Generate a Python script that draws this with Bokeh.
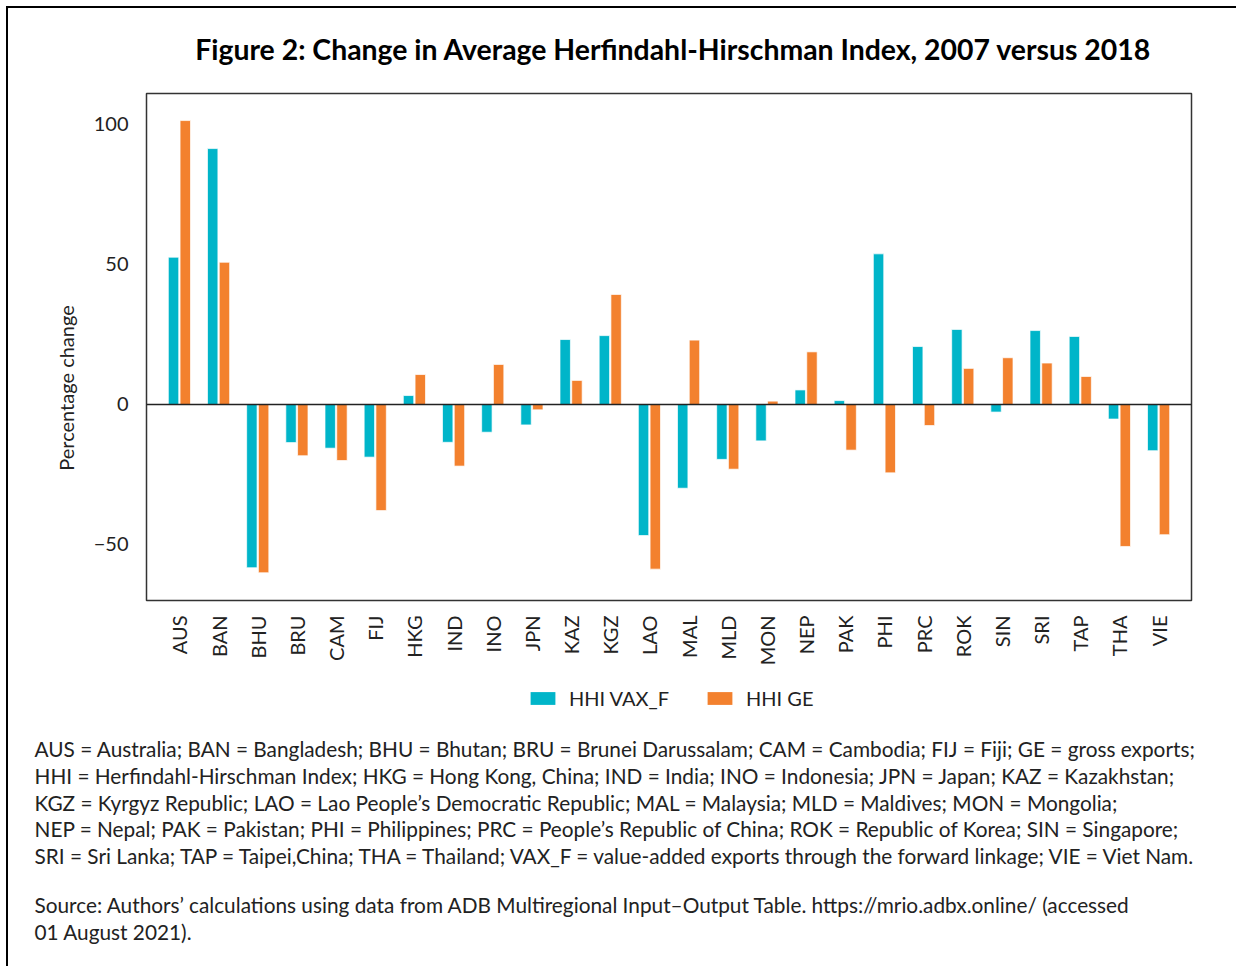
from math import pi
from bokeh.plotting import figure
from bokeh.models import (ColumnDataSource, FactorRange, Range1d, FixedTicker,
                          Span, Label, Legend, LegendItem)
from bokeh.transform import dodge
from bokeh.embed import file_html
from bokeh.resources import INLINE

# ---------------- data ----------------
countries = ["AUS", "BAN", "BHU", "BRU", "CAM", "FIJ", "HKG", "IND", "INO", "JPN",
             "KAZ", "KGZ", "LAO", "MAL", "MLD", "MON", "NEP", "PAK", "PHI", "PRC",
             "ROK", "SIN", "SRI", "TAP", "THA", "VIE"]
hhi_vax_f = [52.6, 91.4, -58.3, -13.6, -15.6, -18.8, 3.2, -13.5, -9.9, -7.3,
             23.2, 24.6, -46.8, -29.9, -19.6, -13.0, 5.2, 1.4, 53.8, 20.7,
             26.8, -2.7, 26.4, 24.3, -5.2, -16.5]
hhi_ge = [101.4, 50.8, -60.1, -18.3, -20.0, -37.9, 10.7, -22.0, 14.3, -1.9,
          8.6, 39.3, -58.8, 23.0, -23.1, 1.2, 18.8, -16.3, -24.4, -7.5,
          12.9, 16.7, 14.8, 10.0, -50.7, -46.5]
series_names = ["HHI VAX_F", "HHI GE"]
y_ticks = [-50, 0, 50, 100]
title_text = "Figure 2: Change in Average Herfindahl-Hirschman Index, 2007 versus 2018"
y_title = "Percentage change"
note_lines = [
    "AUS = Australia; BAN = Bangladesh; BHU = Bhutan; BRU = Brunei Darussalam; CAM = Cambodia; FIJ = Fiji; GE = gross exports;",
    "HHI = Herfindahl-Hirschman Index; HKG = Hong Kong, China; IND = India; INO = Indonesia; JPN = Japan; KAZ = Kazakhstan;",
    "KGZ = Kyrgyz Republic; LAO = Lao People\u2019s Democratic Republic; MAL = Malaysia; MLD = Maldives; MON = Mongolia;",
    "NEP = Nepal; PAK = Pakistan; PHI = Philippines; PRC = People\u2019s Republic of China; ROK = Republic of Korea; SIN = Singapore;",
    "SRI = Sri Lanka; TAP = Taipei,China; THA = Thailand; VAX_F = value-added exports through the forward linkage; VIE = Viet Nam.",
]
source_lines = [
    "Source: Authors\u2019 calculations using data from ADB Multiregional Input\u2013Output Table. https://mrio.adbx.online/ (accessed",
    "01 August 2021).",
]

# ---------------- style ----------------
FONT = "Lato"
CYAN = "#00B5C9"
ORANGE = "#F3812E"
TEXT = "#222222"
W, H = 1230, 960
ORIGIN = 8                                                 # page position of canvas top-left
FRAME_L, FRAME_R, FRAME_T, FRAME_B = 146, 1191, 93, 600    # page pixels of the plot frame
BASE_FIX = -9                                              # baseline correction for free labels

# ================= chart =================
src = ColumnDataSource(dict(country=countries, vax=hhi_vax_f, ge=hhi_ge))

p = figure(width=W, height=H,
           x_range=FactorRange(*countries, range_padding=0.34, range_padding_units="absolute"),
           y_range=Range1d(-70, 111.07),
           output_backend="svg", toolbar_location=None,
           min_border_left=FRAME_L - ORIGIN,
           min_border_right=W - (FRAME_L - ORIGIN) - (FRAME_R - FRAME_L),
           min_border_top=FRAME_T - ORIGIN,
           min_border_bottom=H - (FRAME_T - ORIGIN) - (FRAME_B - FRAME_T))
p.styles = {"margin-left": "6px", "margin-top": "6px",
            "border-top": "2px solid black", "border-left": "2px solid black"}

p.outline_line_color = "#333333"
p.outline_line_width = 1.5
p.xgrid.visible = False
p.ygrid.visible = False
p.background_fill_color = "white"
p.border_fill_color = "white"

p.vbar(x=dodge("country", -0.15, range=p.x_range), top="vax", width=0.266,
       source=src, fill_color=CYAN, line_color="white", line_width=0.7)
p.vbar(x=dodge("country", 0.15, range=p.x_range), top="ge", width=0.266,
       source=src, fill_color=ORANGE, line_color="white", line_width=0.7)

p.add_layout(Span(location=0, dimension="width", line_color="#222222", line_width=1.5))

xa = p.xaxis[0]
xa.major_label_orientation = pi / 2
xa.major_label_text_font = FONT
xa.major_label_text_font_size = "20px"
xa.major_label_text_color = TEXT
xa.major_label_standoff = 9
xa.axis_line_color = None
xa.major_tick_line_color = None
xa.minor_tick_line_color = None

ya = p.yaxis[0]
ya.ticker = FixedTicker(ticks=y_ticks)
ya.major_label_text_font = FONT
ya.major_label_text_font_size = "20px"
ya.major_label_text_color = TEXT
ya.major_label_standoff = 12
ya.axis_line_color = None
ya.major_tick_line_color = None
ya.minor_tick_line_color = None

# ================= transparent overlay for title, axis title, legend, notes =================
ov = figure(width=W, height=H,
            x_range=Range1d(ORIGIN, ORIGIN + W),
            y_range=Range1d(ORIGIN + H, ORIGIN),          # page pixels, y downward
            output_backend="svg", toolbar_location=None,
            x_axis_location=None, y_axis_location=None,
            min_border=0, outline_line_color=None)
ov.styles = {"position": "absolute", "left": f"{ORIGIN}px", "top": f"{ORIGIN}px"}
ov.background_fill_alpha = 0
ov.border_fill_alpha = 0
ov.xgrid.visible = False
ov.ygrid.visible = False

# legend proxies: one mark each, placed off-canvas so only their legend swatches show
proxy = ColumnDataSource(dict(x=[-500], top=[-500]))
l1 = ov.vbar(x="x", top="top", width=1, source=proxy, fill_color=CYAN, line_color=None)
l2 = ov.vbar(x="x", top="top", width=1, source=proxy, fill_color=ORANGE, line_color=None)

legend = Legend(items=[LegendItem(label=series_names[0], renderers=[l1]),
                       LegendItem(label=series_names[1], renderers=[l2])],
                orientation="horizontal",
                location=(527 - ORIGIN, (ORIGIN + H) - 710),
                glyph_width=31, glyph_height=16, label_height=16,
                label_standoff=11, spacing=35, padding=0, margin=0,
                border_line_color=None, background_fill_alpha=0,
                label_text_font=FONT, label_text_font_size="20px",
                label_text_color=TEXT)
ov.add_layout(legend)

def add_text(x, y, text, size, style="normal", align="left", angle=0, baseline="alphabetic"):
    ov.add_layout(Label(x=x, y=y, text=text, text_font=FONT, text_font_size=size,
                        text_font_style=style,
                        text_color=TEXT if style == "normal" else "black",
                        text_align=align, text_baseline=baseline, angle=angle))

add_text(673, 57 + BASE_FIX, title_text, "28.4px", style="bold", align="center")
add_text(65, 387.5, y_title, "20px", align="center", angle=pi / 2, baseline="middle")
for i, line in enumerate(note_lines):
    add_text(34, 757 + BASE_FIX + i * 26.8, line, "20.8px")
for i, line in enumerate(source_lines):
    add_text(34, 913 + BASE_FIX + i * 27, line, "20.8px")

open("out.html", "w").write(file_html([p, ov], INLINE))
